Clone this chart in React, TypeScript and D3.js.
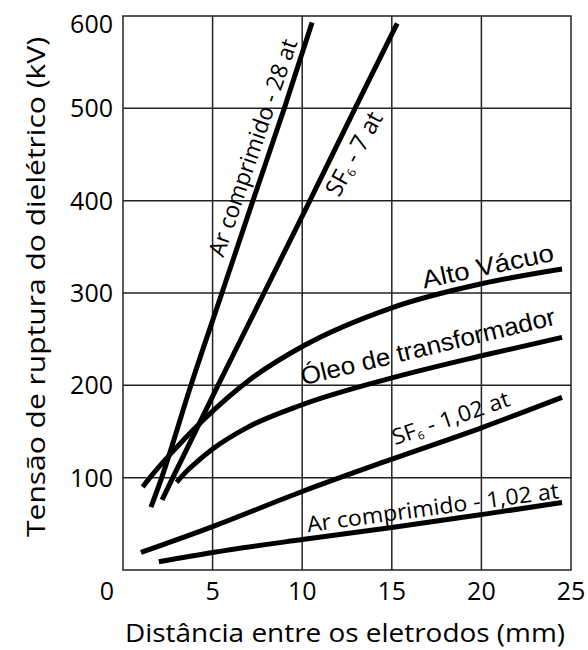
import React, { useEffect, useRef } from 'react'
import * as d3 from 'd3'

// eixos
const xTicks = [5, 10, 15, 20, 25]
const yTicks = [100, 200, 300, 400, 500, 600]

// curvas: [distancia (mm), tensao (kV)]
const arComprimido28: [number, number][] = [[1.56, 68], [2.16, 100], [3.79, 200], [5.52, 300], [7.25, 400], [9.0, 500], [10.55, 593]]
const sf6_7: [number, number][] = [[2.18, 76], [2.78, 100], [5.3, 200], [7.87, 300], [10.43, 400], [12.95, 500], [15.3, 592]]
const altoVacuo: [number, number][] = [[1.1, 90], [1.5, 100], [3, 133], [5, 172], [7, 205], [10, 242], [15, 284], [20, 310], [24.5, 326]]
const oleo: [number, number][] = [[3.0, 95], [3.5, 106], [4, 115], [5, 131], [7, 155], [10, 179], [15, 208], [20, 232], [24.5, 252]]
const sf6_102: [number, number][] = [[1, 19], [5, 47], [10, 85], [15, 120], [20, 154], [24.5, 187]]
const arComprimido102: [number, number][] = [[2, 9], [5, 19], [10, 33], [15, 46], [20, 60], [24.5, 73]]

const series = [arComprimido28, sf6_7, altoVacuo, oleo, sf6_102, arComprimido102]

// rotulos: texto, subscrito, resto, ponto (dados), angulo, comprimento
const labels = [
  { pre: 'Ar comprimido - 28 at', sub: '', post: '', at: [5.6, 338], angle: -71, len: 228, font: 'Open Sans', size: 23 },
  { pre: 'SF', sub: '6', post: ' - 7 at', at: [12.05, 403], angle: -61, len: 92, font: 'Open Sans', size: 24 },
  { pre: 'Alto Vácuo', sub: '', post: '', at: [16.8, 305], angle: -12, len: 134, font: 'Liberation Sans', size: 25 },
  { pre: 'Óleo de transformador', sub: '', post: '', at: [10.04, 200], angle: -13.5, len: 261, font: 'Liberation Sans', size: 25 },
  { pre: 'SF', sub: '6', post: ' - 1,02 at', at: [15.18, 135], angle: -19, len: 123, font: 'Open Sans', size: 22 },
  { pre: 'Ar comprimido - 1,02 at', sub: '', post: '', at: [10.32, 41], angle: -7.7, len: 254, font: 'Open Sans', size: 22 },
]

const W = 588
const H = 650

export default function App() {
  const ref = useRef<SVGSVGElement>(null)

  useEffect(() => {
    const svg = d3.select(ref.current)
    svg.selectAll('*').remove()

    const x = d3.scaleLinear().domain([0, 25]).range([123, 571])
    const y = d3.scaleLinear().domain([0, 600]).range([570, 16])

    const g = svg.append('g')

    /* grade */
    g.selectAll('.vgrid')
      .data(xTicks.slice(0, -1))
      .enter()
      .append('line')
      .attr('x1', d => x(d)).attr('x2', d => x(d))
      .attr('y1', y(0)).attr('y2', y(600))
      .attr('stroke', '#222').attr('stroke-width', 1.5)
    g.selectAll('.hgrid')
      .data(yTicks.slice(0, -1))
      .enter()
      .append('line')
      .attr('x1', x(0)).attr('x2', x(25))
      .attr('y1', d => y(d)).attr('y2', d => y(d))
      .attr('stroke', '#222').attr('stroke-width', 1.5)
    g.append('rect')
      .attr('x', x(0)).attr('y', y(600))
      .attr('width', x(25) - x(0)).attr('height', y(0) - y(600))
      .attr('fill', 'none').attr('stroke', '#222').attr('stroke-width', 1.5)

    /* curvas */
    const line = d3.line<[number, number]>()
      .x(d => x(d[0]))
      .y(d => y(d[1]))
      .curve(d3.curveMonotoneX)
    g.selectAll('.curve')
      .data(series)
      .enter()
      .append('path')
      .attr('d', d => line(d))
      .attr('fill', 'none')
      .attr('stroke', '#000')
      .attr('stroke-width', 5)

    /* rotulos das curvas */
    labels.forEach(l => {
      const px = x(l.at[0])
      const py = y(l.at[1])
      const t = g.append('text')
        .attr('transform', `translate(${px},${py}) rotate(${l.angle})`)
        .attr('font-family', l.font)
        .attr('font-size', l.size)
        .attr('fill', '#000')
        .attr('textLength', l.len)
        .attr('lengthAdjust', 'spacingAndGlyphs')
      t.append('tspan').text(l.pre)
      if (l.sub) {
        t.append('tspan').attr('font-size', l.size * 0.5).attr('dy', 3).text(l.sub)
        t.append('tspan').attr('dy', -3).text(l.post)
      }
    })

    /* rotulos dos eixos */
    g.selectAll('.xt')
      .data(xTicks)
      .enter()
      .append('text')
      .attr('x', d => x(d)).attr('y', 600)
      .attr('text-anchor', 'middle')
      .attr('font-family', 'Open Sans').attr('font-size', 25)
      .text(d => d)
    g.append('text')
      .attr('x', x(0) - 16).attr('y', 600)
      .attr('text-anchor', 'middle')
      .attr('font-family', 'Open Sans').attr('font-size', 25)
      .text('0')
    g.selectAll('.yt')
      .data(yTicks)
      .enter()
      .append('text')
      .attr('x', 113).attr('y', d => y(d) + (d === 600 ? 8 : 0))
      .attr('dy', '0.36em')
      .attr('text-anchor', 'end')
      .attr('font-family', 'Open Sans').attr('font-size', 25)
      .text(d => d)

    g.append('text')
      .attr('x', 345).attr('y', 642)
      .attr('text-anchor', 'middle')
      .attr('font-family', 'Open Sans').attr('font-size', 25)
      .attr('textLength', 440).attr('lengthAdjust', 'spacingAndGlyphs')
      .text('Distância entre os eletrodos (mm)')
    g.append('text')
      .attr('transform', `translate(45,287) rotate(-90)`)
      .attr('text-anchor', 'middle')
      .attr('font-family', 'Open Sans').attr('font-size', 25)
      .attr('textLength', 500).attr('lengthAdjust', 'spacingAndGlyphs')
      .text('Tensão de ruptura do dielétrico (kV)')
  }, [])

  return (
    <svg ref={ref} width={W} height={H} viewBox={`0 0 ${W} ${H}`}
      style={{ position: 'absolute', left: 0, top: 0, background: '#fff' }} />
  )
}
